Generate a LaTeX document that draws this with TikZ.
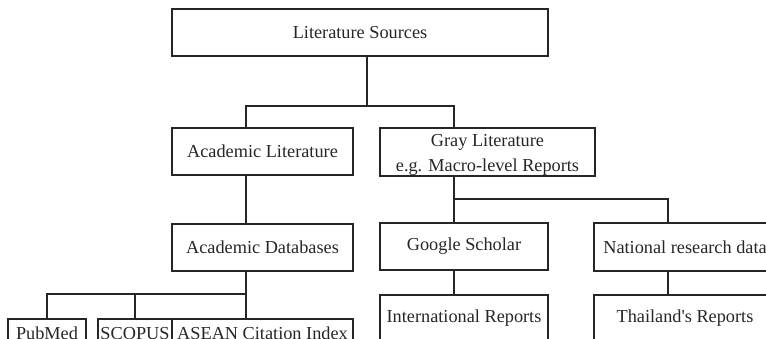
\documentclass[tikz,border=0pt]{standalone}
\usepackage{fontspec}
\setmainfont{Liberation Serif}
\usepackage{tikz}
\usepackage{xcolor}
\tikzset{
    plain-box/.style = {draw=black!85, line width=0.7pt, rectangle, inner sep=1pt, align=center, minimum height=0.94cm, font=\fontsize{10.4}{14}\selectfont, text=black!85},
    low-box/.style = {plain-box, minimum height=0.58cm},
    tree-line/.style = {draw=black!85, line width=0.6pt},
}

\begin{document}
\begin{tikzpicture}[x=0.02cm, y=-0.02cm]
\useasboundingbox (0,0) rectangle (766,338);
\clip (0,0) rectangle (766,338);

\node [plain-box, minimum width=7.52cm] (src) at (360,32.5) {Literature Sources};
\node [plain-box, minimum width=3.62cm] (acad) at (262.5,151.5) {Academic Literature};
\node [plain-box, minimum width=4.30cm, minimum height=0.96cm, inner sep=0pt] (gray) at (487.5,152) {\rule{0pt}{10.5pt}Gray Literature\\e.g. Macro-level Reports};
\node [plain-box, minimum width=3.62cm] (adb) at (262.5,247.5) {Academic Databases};
\node [plain-box, minimum width=3.36cm] (google) at (464,246.5) {Google Scholar};
\node [plain-box, minimum width=3.64cm, minimum height=0.96cm] (natl) at (685,247) {National research data};
\node [plain-box, minimum width=3.36cm] (intl) at (464,318.5) {International Reports};
\node [plain-box, minimum width=3.64cm] (thai) at (685,318.5) {Thailand\textquotesingle s Reports};
\node [low-box, minimum width=1.56cm] (pubmed) at (47,333.5) {PubMed};
\node [low-box, minimum width=1.48cm] (scopus) at (135,333.5) {SCOPUS};
\node [low-box, minimum width=3.62cm] (asean) at (262.5,333.5) {ASEAN Citation Index};

% where the branches run
\coordinate (top-bus) at (367,106);
\coordinate (gray-bus) at (454,199);
\coordinate (adb-bus) at (246,294);
\coordinate (acad-col) at (246,0);
\coordinate (gray-col) at (454,0);
\coordinate (natl-col) at (668,0);

\draw [tree-line] (src.south -| top-bus) -- (top-bus);
\draw [tree-line] (acad.north -| acad-col) |- (top-bus) -| (gray.north -| gray-col);
\draw [tree-line] (acad.south -| acad-col) -- (adb.north -| acad-col);
\draw [tree-line] (gray.south -| gray-col) -- (google.north -| gray-col);
\draw [tree-line] (gray-bus) -| (natl.north -| natl-col);
\draw [tree-line] (google.south -| gray-col) -- (intl.north -| gray-col);
\draw [tree-line] (natl.south -| natl-col) -- (thai.north -| natl-col);
\draw [tree-line] (adb.south -| acad-col) -- (asean.north -| acad-col);
\draw [tree-line] (pubmed.north) |- (adb-bus);
\draw [tree-line] (scopus.north) -- (scopus.north |- adb-bus);
\end{tikzpicture}
\end{document}
